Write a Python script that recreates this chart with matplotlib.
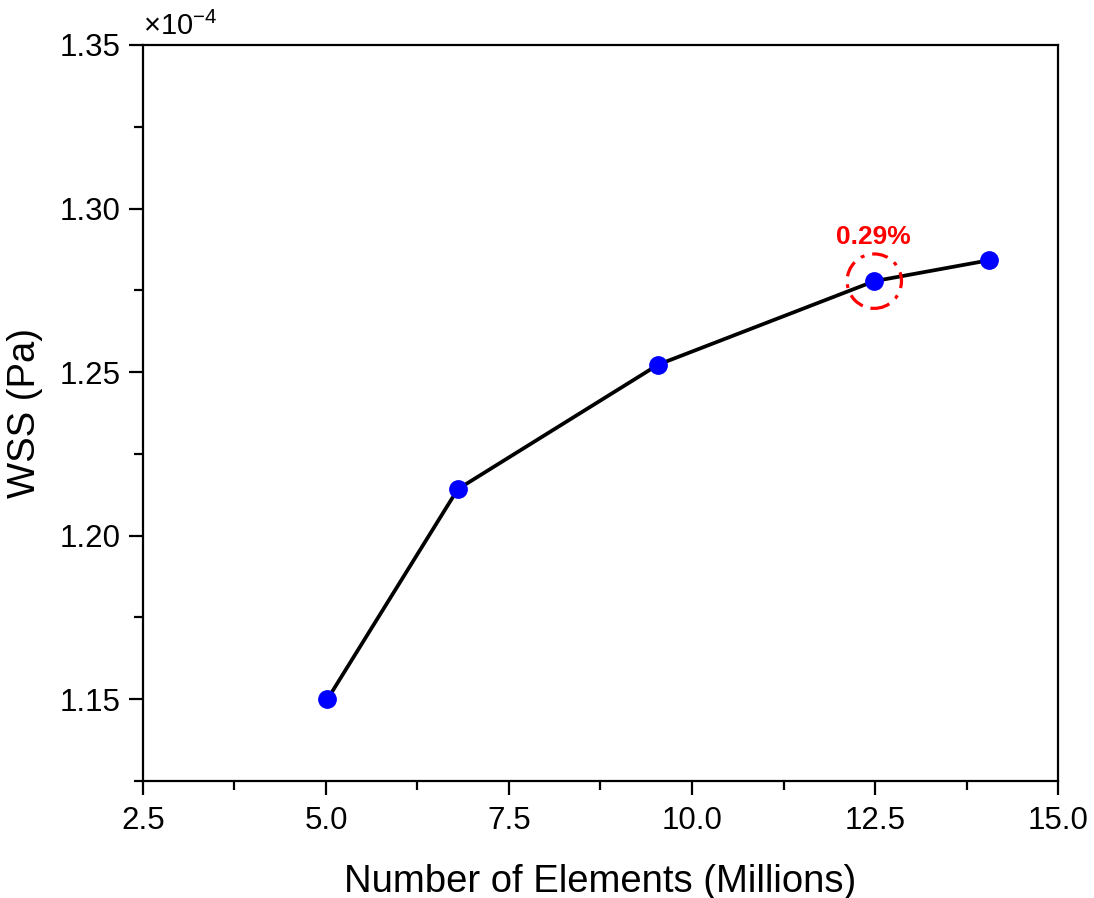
import matplotlib
matplotlib.use("Agg")
import matplotlib.pyplot as plt
from matplotlib.patches import Circle
from matplotlib.transforms import ScaledTranslation
from matplotlib.ticker import MultipleLocator, FormatStrFormatter

plt.rcParams['font.family'] = ['Liberation Sans', 'DejaVu Sans']
plt.rcParams['mathtext.fontset'] = 'custom'
plt.rcParams['mathtext.rm'] = 'Liberation Sans'
plt.rcParams['mathtext.it'] = 'Liberation Sans'

elements = [5.02, 6.80, 9.54, 12.49, 14.06]   # millions
wss = [1.150, 1.2142, 1.2523, 1.2778, 1.2842]  # x1e-4 Pa
highlight_idx = 3
highlight_label = "0.29%"

fig = plt.figure(figsize=(10.94, 8.98), dpi=100)
ax = fig.add_axes([0.1307, 0.1303, 0.8364, 0.8196])

ax.plot(elements, wss, color='black', lw=2.7, zorder=2)
ax.plot(elements, wss, 'o', color='#0000ff', ms=12.5, zorder=3)

ax.set_xlim(2.5, 15.0)
ax.set_ylim(1.125, 1.35)
ax.xaxis.set_major_locator(MultipleLocator(2.5))
ax.xaxis.set_minor_locator(MultipleLocator(1.25))
ax.yaxis.set_major_locator(MultipleLocator(0.05))
ax.yaxis.set_minor_locator(MultipleLocator(0.025))
ax.xaxis.set_major_formatter(FormatStrFormatter('%.1f'))
ax.yaxis.set_major_formatter(FormatStrFormatter('%.2f'))

for s in ax.spines.values():
    s.set_linewidth(1.6)
ax.tick_params(which='major', direction='out', length=10, width=1.6, labelsize=22.5, pad=6)
ax.tick_params(axis='x', which='major', pad=8)
ax.tick_params(which='minor', direction='out', length=6.5, width=1.6)

ax.set_xlabel('Number of Elements (Millions)', fontsize=27.5, labelpad=20)
ax.set_ylabel('WSS (Pa)', fontsize=27.5, labelpad=12)

ax.text(0.0, 1.006, r'$\times10^{-4}$', transform=ax.transAxes, fontsize=21,
        ha='left', va='bottom')

hx, hy = elements[highlight_idx], wss[highlight_idx]
circ = Circle((0, 0), radius=0.272, fill=False, edgecolor='red', lw=2.3,
              linestyle=(0, (5, 2.5, 1.2, 2.5)),
              transform=fig.dpi_scale_trans + ScaledTranslation(hx, hy, ax.transData),
              zorder=4)
ax.add_patch(circ)
ax.annotate(highlight_label, (hx, hy), xytext=(-1, 32.0), textcoords='offset points',
            ha='center', va='center', color='red', fontsize=19, fontweight='bold')

fig.savefig('out.png', dpi=100)
